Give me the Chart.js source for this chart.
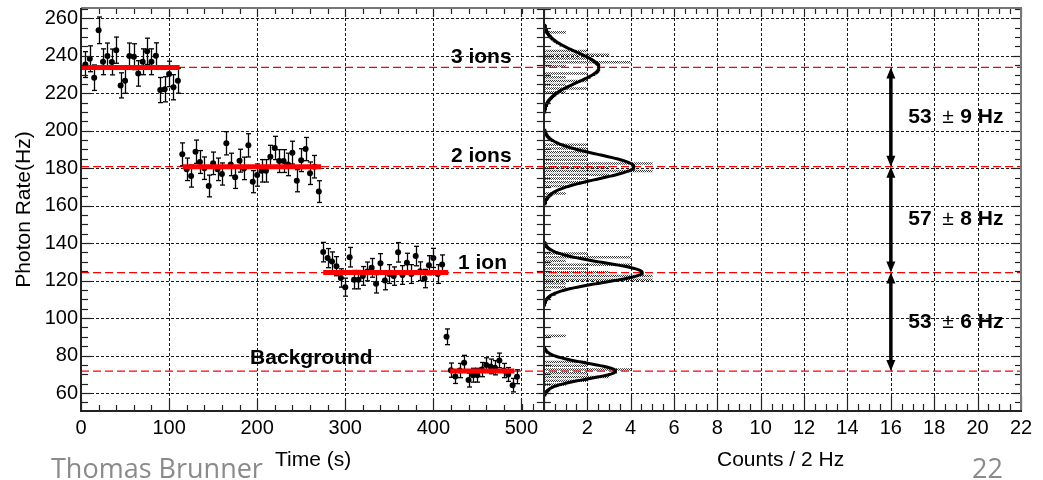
<!DOCTYPE html>
<html lang="en">
<head>
<meta charset="utf-8">
<title>Photon rate vs time</title>
<script src="https://cdn.jsdelivr.net/npm/chart.js@4.4.1/dist/chart.umd.min.js"></script>
<style>
  html, body { margin: 0; padding: 0; background: #ffffff; }
  #wrap { position: relative; width: 1043px; height: 480px; overflow: hidden; background: #fff; }
  #chart { position: absolute; left: 0; top: 0; }
  .footer { position: absolute; top: 454px; font-family: 'Open Sans', 'Noto Sans', sans-serif; font-size: 27px; line-height: 27px; color: #8a8a8a; white-space: nowrap; }
</style>
</head>
<body>
<div id="wrap">
  <canvas id="chart" width="1043" height="480"></canvas>
  <div class="footer" style="left:51px;">Thomas Brunner</div>
  <div class="footer" style="left:972px;">22</div>
</div>
<script>
const FONT = "'Liberation Sans', Arial, Helvetica, sans-serif";

// ---- tick labels ----
const timeTicks = [0, 100, 200, 300, 400, 500];
const countTicks = [2, 4, 6, 8, 10, 12, 14, 16, 18, 20, 22];
const rateTicks = [60, 80, 100, 120, 140, 160, 180, 200, 220, 240, 260];

// ---- time series (5 s bins) ----
const times3ions = [5, 10, 15, 20, 25, 30, 35, 40, 45, 50, 55, 60, 65, 70, 75, 80, 85, 90, 95, 100, 105, 110];
const rates3ions = [235.3, 238.4, 228.3, 253.6, 236.8, 239.9, 236.7, 243.0, 224.2, 226.7, 239.9, 239.5, 230.6, 236.8, 242.4, 236.8, 240.0, 221.7, 222.1, 230.3, 223.2, 226.7];
const errs3ions  = [6.9, 6.9, 6.8, 7.1, 6.9, 6.9, 6.9, 7.0, 6.7, 6.7, 6.9, 6.9, 6.8, 6.9, 7.0, 6.9, 6.9, 6.7, 6.7, 6.8, 6.7, 6.7];

const times2ions = [115, 120, 125, 130, 135, 140, 145, 150, 155, 160, 165, 170, 175, 180, 185, 190, 195, 200, 205, 210, 215, 220, 225, 230, 235, 240, 245, 250, 255, 260, 265, 270];
const rates2ions = [187.4, 179.4, 175.8, 188.8, 183.3, 180.0, 170.5, 182.6, 179.4, 176.9, 193.3, 182.0, 175.1, 184.0, 179.9, 192.2, 172.8, 176.3, 178.6, 178.6, 186.1, 190.8, 183.8, 183.8, 182.0, 188.3, 173.3, 184.3, 190.2, 177.3, 180.8, 167.5];
const errs2ions  = [6.1, 6.0, 5.9, 6.2, 6.1, 6.0, 5.8, 6.0, 6.0, 5.9, 6.2, 6.0, 5.9, 6.1, 6.0, 6.2, 5.9, 5.9, 6.0, 6.0, 6.1, 6.2, 6.1, 6.1, 6.0, 6.1, 5.9, 6.1, 6.2, 6.0, 6.0, 5.8];

const times1ion = [275, 280, 285, 290, 295, 300, 305, 310, 315, 320, 325, 330, 335, 340, 345, 350, 355, 360, 365, 370, 375, 380, 385, 390, 395, 400, 405, 410];
const rates1ion = [135.2, 132.0, 130.2, 127.7, 121.4, 116.5, 132.5, 120.5, 120.5, 122.5, 124.9, 126.8, 118.3, 129.3, 120.0, 123.5, 122.4, 135.1, 123.0, 129.5, 123.5, 133.1, 125.0, 121.1, 128.2, 132.1, 123.5, 128.6];
const errs1ion  = [5.2, 5.1, 5.1, 5.1, 4.9, 4.8, 5.2, 4.9, 4.9, 5.0, 5.0, 5.0, 4.9, 5.1, 4.9, 5.0, 4.9, 5.2, 5.0, 5.1, 5.0, 5.2, 5.0, 4.9, 5.1, 5.1, 5.0, 5.1];

const timesTransition = [415];
const ratesTransition = [90.0];
const errsTransition  = [4.2];

const timesBg = [420, 425, 430, 435, 440, 445, 450, 455, 460, 465, 470, 475, 480, 485, 490, 495];
const ratesBg = [72.2, 68.8, 72.0, 76.2, 66.9, 69.5, 69.5, 72.5, 74.9, 74.2, 73.5, 77.4, 72.0, 69.9, 64.2, 68.7];
const errsBg  = [3.8, 3.7, 3.8, 3.9, 3.7, 3.7, 3.7, 3.8, 3.9, 3.9, 3.8, 3.9, 3.8, 3.7, 3.6, 3.7];

// ---- fitted levels ----
const levelMeans = [233.8, 180.8, 124.3, 71.7];
const fitStart = [0, 115.5, 275, 419];
const fitEnd = [112, 272.5, 417, 492];
const levelNames = ['3 ions', '2 ions', '1 ion', 'Background'];
const levelNameTime = [420, 420, 428, 192];
const levelNameRate = [239.5, 186.5, 129.2, 78.8];

// ---- projection histogram (2 Hz bins, centres) ----
const histCenters = [253, 243, 241, 239, 237, 235, 231, 229, 227, 225, 223, 221,
                     193, 191, 189, 187, 185, 183, 181, 179, 177, 175, 173, 171, 167,
                     135, 133, 131, 129, 127, 125, 123, 121, 119, 117,
                     91,
                     77, 75, 73, 71, 69, 67, 65];
const histCounts  = [1, 2, 3, 2, 4, 1, 2, 1, 2, 1, 2, 1,
                     2, 2, 2, 2, 2, 5, 3, 5, 3, 2, 2, 1, 1,
                     2, 4, 1, 4, 2, 3, 5, 5, 1, 1,
                     1,
                     2, 2, 4, 2, 3, 2, 1];

// ---- gaussian fit parameters (amplitude, sigma, drawn range) ----
const gaussAmp   = [2.54, 4.15, 4.54, 3.31];
const gaussSigma = [8.0, 6.5, 5.3, 4.2];
const gaussLow   = [210, 161, 107, 59];
const gaussHigh  = [257, 201, 141, 85];

// ---- step annotations ----
const stepValues = ['53', '57', '53'];
const stepErrors = ['9', '8', '6'];
const arrowCount = 16;
const stepLabelCount = 16.8;

// ---- axis ranges ----
const TIME_MAX = 1067.2, COUNT_MIN = -21.34, COUNT_MAX = 22, RATE_MIN = 50.4, RATE_MAX = 265.5;

function fitCurve(i) {
  const out = [];
  for (let v = gaussLow[i]; v <= gaussHigh[i] + 1e-9; v += 0.25) {
    const z = (v - levelMeans[i]) / gaussSigma[i];
    out.push({ x: gaussAmp[i] * Math.exp(-0.5 * z * z), y: v });
  }
  return out;
}

const canvas = document.getElementById('chart');
function hatchPattern() {
  const t = document.createElement('canvas');
  t.width = 2; t.height = 2;
  const g = t.getContext('2d');
  g.fillStyle = 'rgba(0,0,0,0.8)';
  g.fillRect(0, 0, 1, 1);
  g.fillRect(1, 1, 1, 1);
  return canvas.getContext('2d').createPattern(t, 'repeat');
}

const snap = v => Math.round(v) + 0.5;
function line(ctx, x1, y1, x2, y2) { ctx.beginPath(); ctx.moveTo(x1, y1); ctx.lineTo(x2, y2); ctx.stroke(); }

const pts = (ts, rs) => ts.map((t, i) => ({ x: t, y: rs[i] }));
const pointGroups = [
  [times3ions, rates3ions, errs3ions],
  [times2ions, rates2ions, errs2ions],
  [times1ion, rates1ion, errs1ion],
  [timesTransition, ratesTransition, errsTransition],
  [timesBg, ratesBg, errsBg]
];

const datasets = [];
pointGroups.forEach(([ts, rs, es]) => datasets.push({
  type: 'line', xAxisID: 'xt', yAxisID: 'y', data: pts(ts, rs), errors: es,
  showLine: false, pointRadius: 3, pointHoverRadius: 3,
  pointBackgroundColor: '#000', pointBorderColor: '#000', pointBorderWidth: 0, order: 2
}));
levelMeans.forEach((m, i) => {
  datasets.push({ type: 'line', xAxisID: 'xt', yAxisID: 'y',
    data: [{ x: fitStart[i], y: m }, { x: fitEnd[i], y: m }],
    borderColor: '#ff0000', borderWidth: 5, borderCapStyle: 'butt', pointRadius: 0, order: 1 });
  datasets.push({ type: 'line', xAxisID: 'xt', yAxisID: 'y',
    data: [{ x: 0, y: m }, { x: TIME_MAX, y: m }],
    borderColor: '#ff0000', borderWidth: 1.3, borderDash: [8, 4], pointRadius: 0, order: 4 });
  datasets.push({ type: 'line', indexAxis: 'y', xAxisID: 'xc', yAxisID: 'y',
    data: fitCurve(i), borderColor: '#000', borderWidth: 3, pointRadius: 0, order: 3 });
});
datasets.push({ type: 'bar', indexAxis: 'y', xAxisID: 'xc', yAxisID: 'y',
  data: histCenters.map((c, i) => ({ x: histCounts[i], y: c })),
  backgroundColor: hatchPattern(), borderWidth: 0, barPercentage: 1, categoryPercentage: 1, order: 5 });

const errorBars = {
  id: 'errorBars',
  beforeDatasetDraw(chart, args) {
    const ds = chart.data.datasets[args.index];
    if (!ds.errors) return;
    const ctx = chart.ctx, xs = chart.scales[ds.xAxisID], ys = chart.scales.y;
    ctx.save();
    ctx.strokeStyle = '#000'; ctx.lineWidth = 1.3;
    ds.data.forEach((p, i) => {
      const px = snap(xs.getPixelForValue(p.x));
      const y1 = ys.getPixelForValue(p.y + ds.errors[i]);
      const y2 = ys.getPixelForValue(p.y - ds.errors[i]);
      line(ctx, px, y1, px, y2);
      line(ctx, px - 2.5, y1, px + 2.5, y1);
      line(ctx, px - 2.5, y2, px + 2.5, y2);
    });
    ctx.restore();
  }
};

const rootAxes = {
  id: 'rootAxes',
  beforeDatasetsDraw(chart) {
    const { ctx, chartArea: a } = chart; const { y, xt, xc } = chart.scales;
    ctx.save();
    ctx.strokeStyle = '#1a1a1a'; ctx.lineWidth = 1; ctx.setLineDash([3, 2]);
    rateTicks.forEach(v => { const py = snap(y.getPixelForValue(v)); line(ctx, a.left, py, a.right, py); });
    timeTicks.forEach(t => { if (t <= 0) return; const px = snap(xt.getPixelForValue(t)); line(ctx, px, a.top, px, a.bottom); });
    countTicks.forEach(c => { if (c >= COUNT_MAX) return; const px = snap(xc.getPixelForValue(c)); line(ctx, px, a.top, px, a.bottom); });
    ctx.restore();
  },
  afterDatasetsDraw(chart) {
    const { ctx, chartArea: a } = chart; const { y, xt, xc } = chart.scales;
    ctx.save();
    ctx.setLineDash([]);
    ctx.strokeStyle = '#222'; ctx.lineWidth = 1.2;
    const x0 = xc.getPixelForValue(0);
    for (let v = 55; v <= 265; v += 5) {
      const py = snap(y.getPixelForValue(v)); const major = v % 20 === 0;
      line(ctx, a.left, py, a.left + (major ? 10 : 7), py);
      line(ctx, a.right, py, a.right - (major ? 8 : 6), py);
      line(ctx, x0 - 7, py, x0 + 7, py);
    }
    for (let t = 0; t <= 500; t += 20) {
      const px = snap(xt.getPixelForValue(t)); const major = t % 100 === 0;
      line(ctx, px, a.bottom, px, a.bottom - (major ? 12 : 6));
      line(ctx, px, a.top, px, a.top + (major ? 9 : 6));
    }
    for (let c = -1; c <= COUNT_MAX; c += 0.5) {
      const px = snap(xc.getPixelForValue(c)); const major = c % 2 === 0;
      line(ctx, px, a.bottom, px, a.bottom - (major ? 15 : 7));
      line(ctx, px, a.top, px, a.top + (major ? 9 : 6));
    }
    // zero axis of the projection
    ctx.lineWidth = 2; ctx.strokeStyle = '#222';
    const zx = Math.round(x0);
    line(ctx, zx, a.top, zx, a.bottom);
    // frame
    ctx.strokeStyle = '#777';
    line(ctx, a.left, Math.round(a.top), a.right + 1, Math.round(a.top));
    line(ctx, Math.round(a.right), a.top, Math.round(a.right), a.bottom);
    ctx.strokeStyle = '#222';
    line(ctx, Math.round(a.left), a.top, Math.round(a.left), a.bottom + 1);
    line(ctx, a.left - 1, Math.round(a.bottom), a.right + 1, Math.round(a.bottom));

    // count-axis tick labels (drawn from the xc scale)
    ctx.fillStyle = '#000'; ctx.font = '20px ' + FONT;
    ctx.textAlign = 'center'; ctx.textBaseline = 'middle';
    countTicks.forEach(c => ctx.fillText(String(c), xc.getPixelForValue(c), a.bottom + 17));

    // level names
    ctx.textBaseline = 'middle'; ctx.textAlign = 'left';
    ctx.font = 'bold 21px ' + FONT;
    levelNames.forEach((n, i) => ctx.fillText(n, xt.getPixelForValue(levelNameTime[i]), y.getPixelForValue(levelNameRate[i])));

    // double arrows + step labels
    const ax = xc.getPixelForValue(arrowCount);
    const lx = xc.getPixelForValue(stepLabelCount);
    for (let i = 0; i < levelMeans.length - 1; i++) {
      const yTop = y.getPixelForValue(levelMeans[i]);
      const yBot = y.getPixelForValue(levelMeans[i + 1]);
      ctx.strokeStyle = '#000'; ctx.fillStyle = '#000'; ctx.lineWidth = 3.5;
      line(ctx, ax, yTop + 8, ax, yBot - 8);
      ctx.beginPath(); ctx.moveTo(ax, yTop); ctx.lineTo(ax - 4.5, yTop + 11); ctx.lineTo(ax + 4.5, yTop + 11); ctx.closePath(); ctx.fill();
      ctx.beginPath(); ctx.moveTo(ax, yBot); ctx.lineTo(ax - 4.5, yBot - 11); ctx.lineTo(ax + 4.5, yBot - 11); ctx.closePath(); ctx.fill();
      const ly = y.getPixelForValue((levelMeans[i] + levelMeans[i + 1]) / 2);
      ctx.font = 'bold 21px ' + FONT; ctx.fillText(stepValues[i], lx, ly);
      ctx.font = '21px ' + FONT; ctx.fillText('\u00b1', lx + 34, ly);
      ctx.font = 'bold 21px ' + FONT; ctx.fillText(stepErrors[i] + ' Hz', lx + 52, ly);
    }

    // axis titles
    ctx.font = '21px ' + FONT; ctx.textBaseline = 'alphabetic'; ctx.fillStyle = '#000';
    ctx.fillText('Time (s)', 275, 466);
    ctx.fillText('Counts / 2 Hz', 717, 466);
    ctx.restore();
  }
};

const tickFont = { family: FONT, size: 20 };
new Chart(canvas, {
  type: 'line',
  data: { datasets },
  options: {
    responsive: false, animation: false, devicePixelRatio: 1, events: [],
    layout: { autoPadding: false, padding: { top: 8, right: 22, bottom: 0, left: 0 } },
    plugins: { legend: { display: false }, tooltip: { enabled: false } },
    scales: {
      y: {
        type: 'linear', position: 'left', min: RATE_MIN, max: RATE_MAX, offset: false,
        afterBuildTicks: ax => { ax.ticks = rateTicks.map(v => ({ value: v })); },
        afterFit: ax => { ax.width = 81; ax.paddingTop = 0; ax.paddingBottom = 0; },
        grid: { display: false, drawTicks: false, offset: false }, border: { display: false },
        ticks: { padding: 3, color: '#000', font: tickFont },
        title: { display: true, text: 'Photon Rate(Hz)', color: '#000', font: { family: FONT, size: 21 }, padding: { top: 11.5, bottom: 0 } }
      },
      xc: {
        type: 'linear', position: 'bottom', weight: 0, min: COUNT_MIN, max: COUNT_MAX, offset: false,
        afterBuildTicks: ax => { ax.ticks = countTicks.map(v => ({ value: v })); },
        afterFit: ax => { ax.height = 0; ax.paddingLeft = 0; ax.paddingRight = 0; },
        grid: { display: false, drawTicks: false, offset: false }, border: { display: false },
        ticks: { display: false }
      },
      xt: {
        type: 'linear', position: 'bottom', weight: 1, min: 0, max: TIME_MAX, offset: false,
        afterBuildTicks: ax => { ax.ticks = timeTicks.map(v => ({ value: v })); },
        afterFit: ax => { ax.height = 69; ax.paddingLeft = 0; ax.paddingRight = 0; },
        grid: { display: false, drawTicks: false, offset: false }, border: { display: false },
        ticks: { autoSkip: false, maxRotation: 0, minRotation: 0, padding: 5, color: '#000', font: tickFont }
      }
    }
  },
  plugins: [errorBars, rootAxes]
});
</script>
</body>
</html>
